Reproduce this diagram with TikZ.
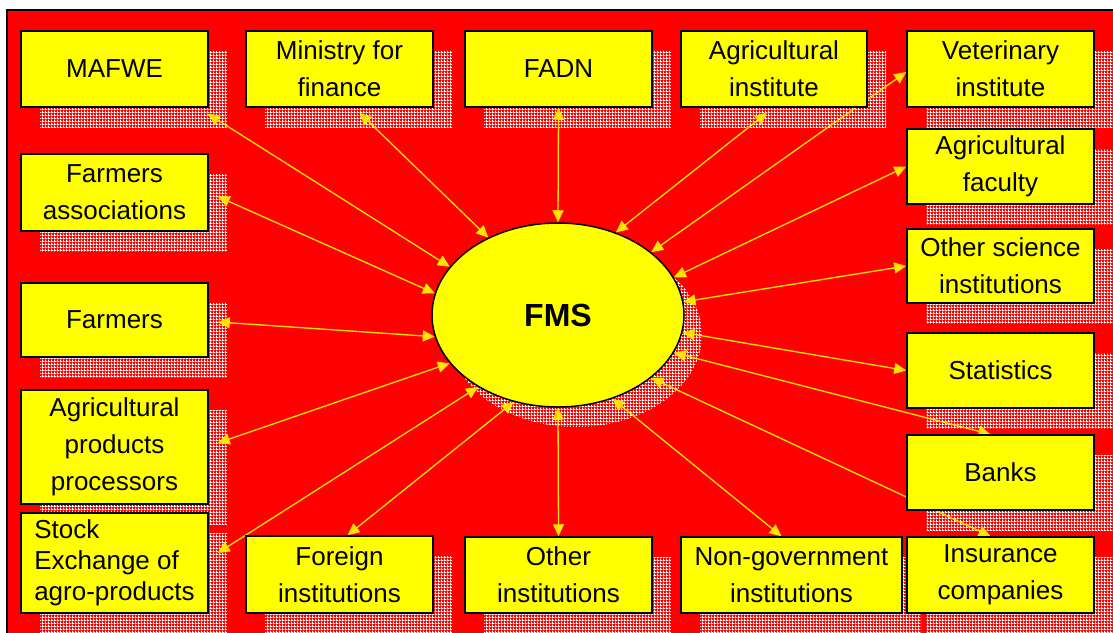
\documentclass[tikz,border=0pt]{standalone}
\usepackage{fontspec}
\setmainfont{Liberation Sans}
\usetikzlibrary{arrows.meta,shapes.geometric,patterns}
\definecolor{yel}{RGB}{255,255,0}
\definecolor{redbg}{RGB}{255,0,0}
\definecolor{linec}{RGB}{255,228,0}
\pgfdeclarepatternformonly{shadpat}{\pgfpointorigin}{\pgfpoint{3pt}{3pt}}{\pgfpoint{3pt}{3pt}}{%
  \pgfpathrectangle{\pgfpointorigin}{\pgfpoint{3pt}{1pt}}%
  \pgfpathrectangle{\pgfpoint{0pt}{1pt}}{\pgfpoint{1pt}{2pt}}%
  \pgfusepath{fill}}
\pgfdeclarelayer{bgl}
\pgfdeclarelayer{shadowl}
\pgfdeclarelayer{arrowl}
\pgfsetlayers{bgl,shadowl,arrowl,main}
\tikzset{
  box/.style={rectangle, draw=black, line width=1.5pt, fill=yel, inner sep=0pt,
    align=center, font=\fontsize{26}{37}\selectfont},
  shadowbox/.style={rectangle, draw=none, inner sep=0pt, pattern=shadpat, pattern color=white},
  conn/.style={draw=linec, line width=1.3pt,
    arrows={Triangle[length=12pt,width=11pt]-Triangle[length=12pt,width=11pt]}, color=linec},
}
% name, cx, cy, w, h, text
\newcommand\ebox[7][]{%
  \begin{pgfonlayer}{shadowl}
    \node[shadowbox, minimum width=#5pt, minimum height=#6pt] (#2s) at (#3+19,#4+20) {};
  \end{pgfonlayer}
  \node[box, minimum width=#5pt, minimum height=#6pt, #1] (#2) at (#3,#4) {#7};
}
\begin{document}
\begin{tikzpicture}[x=1pt,y=-1pt]
\useasboundingbox (0,0) rectangle (1113,632);
\begin{pgfonlayer}{bgl}
  \fill[white] (0,0) rectangle (1113,632);
  \fill[redbg] (7,10) rectangle (1120,640);
  \draw[black, line width=2pt] (7,640) -- (7,10) -- (1120,10);
\end{pgfonlayer}

% top row
\ebox{mafwe}{114.5}{69}{187}{76}{MAFWE}
\ebox{ministry}{339.5}{69}{187}{76}{Ministry for\\finance}
\ebox{fadn}{558.5}{69}{187}{76}{FADN}
\ebox{agrinst}{774}{69}{186}{76}{Agricultural\\institute}
\ebox{vet}{1000.5}{69}{187}{76}{Veterinary\\institute}
% left column
\ebox{fassoc}{114.5}{192.5}{187}{77}{Farmers\\associations}
\ebox{farmers}{114.5}{320}{187}{74}{Farmers}
\ebox{agproc}{114.5}{447}{187}{114}{Agricultural\\products\\processors}
\ebox[align=left, font=\fontsize{26}{31}\selectfont]{stock}{114.5}{563}{187}{100}{Stock\\Exchange of\\agro-products}
% right column
\ebox{agfac}{1000.5}{166.5}{187}{75}{Agricultural\\faculty}
\ebox{othsci}{1000.5}{266}{187}{74}{Other science\\institutions}
\ebox{stats}{1000.5}{370.5}{187}{75}{Statistics}
\ebox{banks}{1000.5}{472.5}{187}{75}{Banks}
\ebox{insur}{1000.5}{575}{187}{76}{Insurance\\companies}
% bottom row
\ebox{foreign}{339.5}{574.5}{187}{77}{Foreign\\institutions}
\ebox{othinst}{558.5}{575}{187}{76}{Other\\institutions}
\ebox{nongov}{791.5}{575}{221}{76}{Non-government\\institutions}

% central ellipse
\begin{pgfonlayer}{shadowl}
  \node[ellipse, draw=none, inner sep=0pt, minimum width=252pt, minimum height=184pt,
    pattern=shadpat, pattern color=white] (fmss) at (576,335) {};
\end{pgfonlayer}
\node[ellipse, draw=black, line width=1.5pt, fill=yel, inner sep=0pt,
  minimum width=252pt, minimum height=184pt,
  font=\bfseries\fontsize{32}{38}\selectfont] (fms) at (558,315) {FMS};

% connectors
\begin{pgfonlayer}{arrowl}
\draw[conn] ([xshift=-1pt,yshift=-6pt]mafwe.south east) -- (fms.156);
\draw[conn] ([xshift=20pt,yshift=-5pt]ministry.south) -- (fms.132);
\draw[conn] (fadn.south) -- (fms.90);
\draw[conn] ([xshift=-7pt,yshift=-5pt]agrinst.south) -- (fms.55);
\draw[conn] ([yshift=-3pt]vet.west) -- (fms.34);
\draw[conn] (agfac.west) -- (fms.18);
\draw[conn] (othsci.west) -- (fms.6);
\draw[conn] (stats.west) -- (fms.352);
\draw[conn] ([xshift=-10pt]banks.north) -- (fms.342);
\draw[conn] ([xshift=-10pt]insur.north) -- (fms.326);
\draw[conn] ([xshift=-10pt]nongov.north) -- (fms.303);
\draw[conn] (othinst.north) -- (fms.270);
\draw[conn] ([xshift=8pt]foreign.north) -- (fms.243);
\draw[conn] ([xshift=9pt,yshift=10pt]stock.east) -- (fms.222);
\draw[conn] ([xshift=9pt,yshift=4pt]agproc.east) -- (fms.204);
\draw[conn] ([xshift=9pt,yshift=-2pt]farmers.east) -- (fms.190);
\draw[conn] ([xshift=9pt,yshift=-4pt]fassoc.east) -- (fms.170);
\end{pgfonlayer}
\end{tikzpicture}
\end{document}
